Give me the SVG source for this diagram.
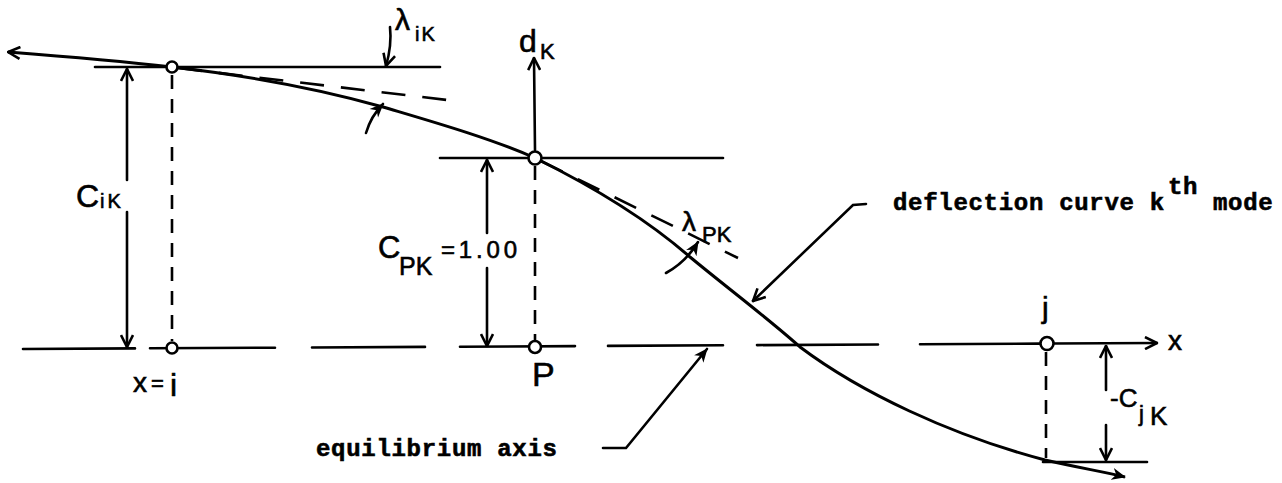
<svg xmlns="http://www.w3.org/2000/svg" width="1282" height="483" viewBox="0 0 1282 483">
<style>
.ln{fill:none;stroke:#000;stroke-width:2.6;stroke-linecap:round}
.cv{fill:none;stroke:#000;stroke-width:3}
.ds{fill:none;stroke:#000;stroke-width:2.6;stroke-dasharray:14 10}
.td{fill:none;stroke:#000;stroke-width:2.6;stroke-dasharray:24 17}
.pt{fill:#fff;stroke:#000;stroke-width:2.6}
.hw{font-family:"Liberation Sans","DejaVu Sans",sans-serif;fill:#000;stroke:#000;stroke-width:0.6}
.tw{font-family:"Liberation Mono","DejaVu Sans Mono",monospace;font-weight:bold;font-size:24px;letter-spacing:0.7px;fill:#000;stroke:#000;stroke-width:0.6}
</style>
<defs>
<marker id="v" viewBox="0 0 14 14" refX="13" refY="7" markerWidth="14" markerHeight="14" markerUnits="userSpaceOnUse" orient="auto-start-reverse">
<path d="M1,1 L13,7 L1,13" fill="none" stroke="#000" stroke-width="2.6"/>
</marker>
<marker id="f" viewBox="0 0 14 14" refX="13" refY="7" markerWidth="14" markerHeight="14" markerUnits="userSpaceOnUse" orient="auto">
<path d="M0,1 L14,7 L0,13 L4,7 z" fill="#000"/>
</marker>
</defs>
<g id="connectors">
<path class="ln" d="M23,349 L135,348.4 M150,348.3 L275,347.7 M312,347.5 L425,346.9 M460,346.7 L575,346.1 M608,345.9 L723,345.3 M757,345.1 L878,344.5 M920,344.3 L1040,343.6"/>
<path class="ln" d="M1053,343.5 L1157,343" marker-end="url(#v)"/>
<path class="cv" d="M8,52 C60,56 120,61 172,67 C260,77 330,92 383,107 C430,121 490,138 535,158 C600,190 650,222 690,257 C730,290 770,320 800,347 C860,392 950,435 1045,460 C1080,468 1105,472 1125,477" marker-start="url(#v)" marker-end="url(#f)"/>
<path class="ln" d="M95,67 L440,67"/>
<path class="ln" d="M440,158 L723,158"/>
<path class="ln" d="M1043,462 L1147,462"/>
<path class="td" d="M178,68 L447,100"/>
<path class="td" d="M541,161 L738,258"/>
<path class="ds" d="M172,75 L172,341"/>
<path class="ds" d="M535,166 L535,340"/>
<path class="ds" d="M1046,352 L1046,458"/>
<path class="ln" d="M535,150 L534,58" marker-end="url(#v)"/>
<path class="ln" d="M127,180 L127,69" marker-end="url(#v)"/>
<path class="ln" d="M127,212 L127,347" marker-end="url(#v)"/>
<path class="ln" d="M487,233 L487,160" marker-end="url(#v)"/>
<path class="ln" d="M487,268 L487,346" marker-end="url(#v)"/>
<path class="ln" d="M1106,390 L1106,346" marker-end="url(#v)"/>
<path class="ln" d="M1106,425 L1106,460" marker-end="url(#v)"/>
<path class="ln" d="M390,27 Q392,45 386,66" marker-end="url(#v)"/>
<path class="ln" d="M366,133 Q371,116 383,104" marker-end="url(#f)"/>
<path class="ln" d="M666,273 Q686,262 698,242" marker-end="url(#f)"/>
<path class="ln" d="M866,204 L853,205 L753,301" marker-end="url(#v)"/>
<path class="ln" d="M603,448 L626,448 L707,349" marker-end="url(#f)"/>
</g>
<g id="point-i"><circle class="pt" cx="172" cy="67" r="5.5"/><circle class="pt" cx="172" cy="348" r="5.5"/></g>
<g id="point-p"><circle class="pt" cx="535" cy="158" r="6.5"/><circle class="pt" cx="535" cy="347" r="6"/></g>
<g id="point-j"><circle class="pt" cx="1047" cy="343.5" r="6.5"/></g>
<g id="labels">
<text class="hw" x="395" y="30" font-size="30">λ</text>
<text class="hw" x="415" y="41" font-size="20" letter-spacing="2">iK</text>
<text class="hw" x="519" y="52" font-size="32">d</text>
<text class="hw" x="540" y="59" font-size="22">K</text>
<text class="hw" x="76" y="207" font-size="32">C</text>
<text class="hw" x="100" y="208" font-size="20" letter-spacing="3">iK</text>
<text class="hw" x="378" y="258" font-size="31">C</text>
<text class="hw" x="399" y="275" font-size="25">PK</text>
<text class="hw" x="441" y="258" font-size="24" textLength="76" lengthAdjust="spacing">=1.00</text>
<text class="hw" x="133" y="392" font-size="28">x</text>
<text class="hw" x="151" y="391" font-size="22">=</text>
<text class="hw" x="170" y="396" font-size="32">i</text>
<text class="hw" x="532" y="386" font-size="34">P</text>
<text class="hw" x="682" y="231" font-size="28">λ</text>
<text class="hw" x="702" y="242" font-size="22">PK</text>
<text class="hw" x="1042" y="318" font-size="30">j</text>
<text class="hw" x="1110" y="407" font-size="26">-C</text>
<text class="hw" x="1139" y="421" font-size="22">j</text>
<text class="hw" x="1150" y="425" font-size="26">K</text>
<text class="hw" x="1168" y="350" font-size="28">x</text>
<text class="tw" x="893" y="210">deflection curve k<tspan x="1168" y="194">th</tspan><tspan x="1213" y="210">mode</tspan></text>
<text class="tw" x="316" y="456">equilibrium axis</text>
</g>
</svg>
